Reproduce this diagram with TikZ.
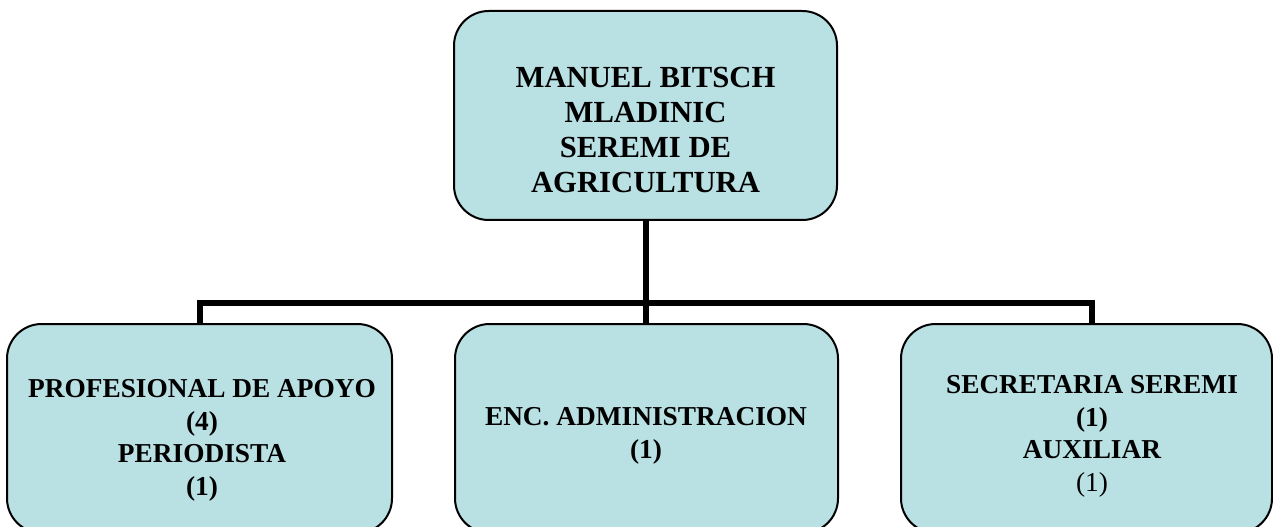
\documentclass[tikz,border=0pt]{standalone}
\usepackage{fontspec}
\setmainfont{Liberation Serif}
\definecolor{boxfill}{RGB}{185,224,227}
\begin{document}
\begin{tikzpicture}[x=0.75pt,y=-0.75pt,
  orgbox/.style={draw=black,line width=1.5pt,fill=boxfill,rounded corners=26pt,inner sep=0pt,minimum height=156.75pt},
  conn/.style={draw=black,line width=4.5pt,line join=miter},
  toplabel/.style={inner sep=0pt,align=center,anchor=north,font=\bfseries\fontsize{23}{26.3}\selectfont},
  sublabel/.style={inner sep=0pt,align=center,anchor=north,font=\bfseries\fontsize{20.5}{24.6}\selectfont}]
\useasboundingbox (0,0) rectangle (1273,527);
\clip (0,0) rectangle (1273,527);
% boxes
\node[orgbox,minimum width=287.25pt] (top) at (645.5,115.5) {};
\node[orgbox,minimum width=288.75pt] (left) at (199.5,428.5) {};
\node[orgbox,minimum width=287.25pt] (mid) at (646.5,428.5) {};
\node[orgbox,minimum width=278.25pt] (right) at (1086.5,428.5) {};
% connectors
\coordinate (jL) at (200,303);
\coordinate (jR) at (1092,303);
\draw[conn] (top.south) -- (top.south |- mid.north);
\draw[conn] (jL |- left.north) -- (jL) -- (jR) -- (jR |- right.north);
% labels
\node[toplabel] (ttop) at (645.5,66.5) {MANUEL BITSCH\\MLADINIC\\SEREMI DE\\AGRICULTURA};
\node[sublabel] (tleft) at (202,379) {PROFESIONAL DE APOYO\\(4)\\PERIODISTA\\(1)};
\node[sublabel] (tmid) at (646,407) {ENC. ADMINISTRACION\\(1)};
\node[sublabel] (tright) at (1092,375) {SECRETARIA SEREMI\\(1)\\AUXILIAR\\{\mdseries (1)}};
\end{tikzpicture}
\end{document}
